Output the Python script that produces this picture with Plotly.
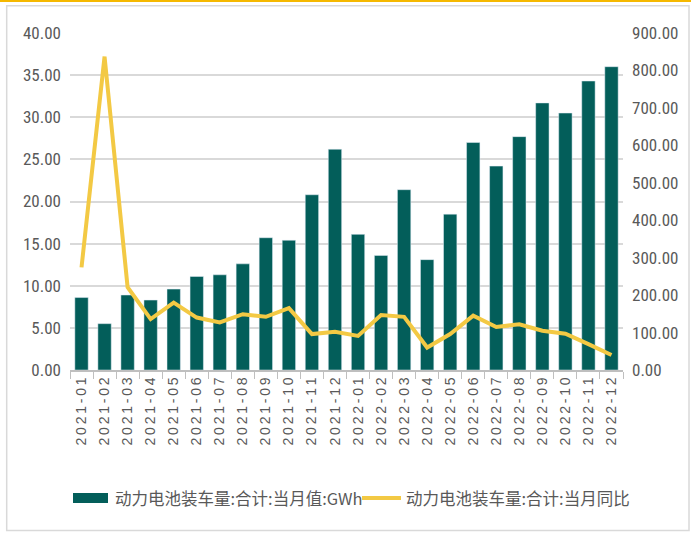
import plotly.graph_objects as go

months = ["2021-01", "2021-02", "2021-03", "2021-04", "2021-05", "2021-06",
          "2021-07", "2021-08", "2021-09", "2021-10", "2021-11", "2021-12",
          "2022-01", "2022-02", "2022-03", "2022-04", "2022-05", "2022-06",
          "2022-07", "2022-08", "2022-09", "2022-10", "2022-11", "2022-12"]
volume_gwh = [8.6, 5.5, 8.9, 8.3, 9.6, 11.1, 11.3, 12.6, 15.7, 15.4, 20.8, 26.2,
              16.1, 13.6, 21.4, 13.1, 18.5, 27.0, 24.2, 27.7, 31.7, 30.5, 34.3, 36.0]
yoy_pct = [274, 837, 221, 136, 180, 140, 127, 149, 142, 165, 96, 102,
           91, 147, 142, 60, 96, 145, 115, 122, 105, 97, 69, 40]
left_ticks = [0, 5, 10, 15, 20, 25, 30, 35, 40]
right_ticks = [0, 100, 200, 300, 400, 500, 600, 700, 800, 900]
name_bar = "动力电池装车量:合计:当月值:GWh"
name_line = "动力电池装车量:合计:当月同比"

spaced = ["\u2009".join(list(m)) for m in months]

TEAL = "#035E5A"
YEL = "#F3C944"
GREY = "#595959"
num_font = dict(family="Liberation Sans Narrow, Roboto Condensed, Liberation Sans, sans-serif",
                size=17, color=GREY)
leg_font = dict(family="Noto Sans CJK SC", size=16.5, color=GREY)

fig = go.Figure()
fig.add_trace(go.Bar(x=months, y=volume_gwh, name=name_bar, marker_color=TEAL,
                     yaxis="y", showlegend=False))
fig.add_trace(go.Scatter(x=months, y=yoy_pct, name=name_line, mode="lines",
                         line=dict(color=YEL, width=4), yaxis="y2", showlegend=False))

# plot area: x 70..623 px, y 33..370 px
W, H = 553.0, 337.0
def px(x):
    return (x - 70) / W
def py(y):
    return (370 - y) / H

fig.update_layout(
    width=691, height=536,
    margin=dict(l=70, r=68, t=33, b=166),
    paper_bgcolor="white", plot_bgcolor="white",
    bargap=0.42,
    showlegend=False,
    xaxis=dict(type="category", tickvals=months, ticktext=spaced, tickangle=-90,
               tickfont=dict(family="Liberation Sans, sans-serif", size=14, color=GREY),
               showline=True, linecolor="#BFBFBF", linewidth=1.5,
               ticks="outside", tickson="boundaries", ticklen=7, tickcolor="#BFBFBF",
               showgrid=False),
    yaxis=dict(range=[0, 40], tickvals=left_ticks,
               ticktext=[f"{v:.2f}" for v in left_ticks], tickfont=num_font,
               showgrid=True, gridcolor="#D9D9D9", gridwidth=1.5, zeroline=False,
               ticklabelstandoff=8),
    yaxis2=dict(range=[0, 900], tickvals=right_ticks, overlaying="y", side="right",
                ticktext=[f"{v:.2f}" for v in right_ticks], tickfont=num_font,
                showgrid=False, zeroline=False, ticklabelstandoff=8),
    shapes=[
        dict(type="rect", xref="paper", yref="paper", x0=px(6.7), x1=px(689),
             y0=py(530.5), y1=py(5.7), line=dict(color="#D9D9D9", width=1.5), layer="below"),
        dict(type="line", xref="paper", yref="paper", x0=px(-5), x1=px(700),
             y0=py(1), y1=py(1), line=dict(color="#F5B800", width=2)),
        # legend swatches
        dict(type="rect", xref="paper", yref="paper", x0=px(73), x1=px(108),
             y0=py(503), y1=py(493), fillcolor=TEAL, line=dict(width=0)),
        dict(type="line", xref="paper", yref="paper", x0=px(362), x1=px(401),
             y0=py(498), y1=py(498), line=dict(color=YEL, width=4)),
    ],
    annotations=[
        dict(xref="paper", yref="paper", x=px(113), y=py(498), text=name_bar,
             showarrow=False, xanchor="left", yanchor="middle", font=leg_font),
        dict(xref="paper", yref="paper", x=px(404), y=py(498), text=name_line,
             showarrow=False, xanchor="left", yanchor="middle", font=leg_font),
    ],
)

fig.write_html("out.html", config={"displayModeBar": False},
               post_script="document.body.style.margin='0';")
